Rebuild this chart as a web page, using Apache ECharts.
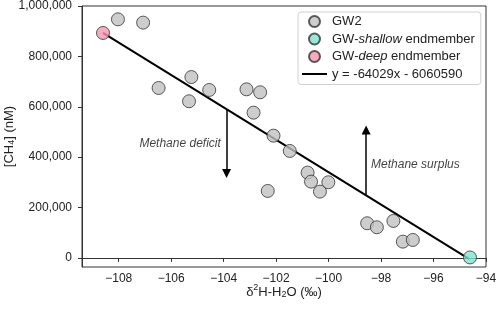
<!DOCTYPE html>
<html>
<head>
<meta charset="utf-8">
<script src="https://cdn.jsdelivr.net/npm/echarts@6/dist/echarts.min.js"></script>
<style>
html,body{margin:0;padding:0;background:#fff;}
#chart{width:498px;height:309px;}
</style>
</head>
<body>
<div id="chart"></div>
<script>
// ---- data ----
const gw2X = [-108.03, -107.07, -106.48, -105.23, -105.32, -104.55, -103.13, -102.61, -102.86, -102.10, -101.48, -100.80, -100.67, -100.01, -100.33, -102.32, -98.53, -98.16, -97.53, -97.17, -96.79];
const gw2Y = [947000, 934000, 674600, 718000, 621800, 666700, 669300, 657500, 576600, 485300, 424600, 338600, 302800, 300300, 263200, 265900, 137600, 121700, 146800, 64700, 71400];
const shallowX = [-94.61];
const shallowY = [2000];
const deepX = [-108.60];
const deepY = [893000];
const fitX = [-108.60, -94.65];
const fitY = [893000, -3400];
const arrowDeficit = [[-103.89, 591000], [-103.89, 335000]];
const arrowSurplus = [[-98.57, 250700], [-98.57, 508000]];
const notes = [[-105.66, 452400, 'Methane deficit'], [-96.69, 369000, 'Methane surplus']];
const xTicks = [-108, -106, -104, -102, -100, -98, -96, -94];
const yTicks = [0, 200000, 400000, 600000, 800000, 1000000];
const legendNames = ['GW2', 'GW-shallow endmember', 'GW-deep endmember', 'y = -64029x - 6060590'];

const zip = (a, b) => a.map((v, i) => [v, b[i]]);
const FONT = 'Liberation Sans, Arial, Helvetica, sans-serif';
const markerBorder = {borderColor: '#333', borderWidth: 1};

const chart = echarts.init(document.getElementById('chart'), null, {renderer: 'canvas'});
chart.setOption({
  animation: false,
  textStyle: {fontFamily: FONT},
  grid: {left: 82, right: 12, top: 6, bottom: 42, show: true, borderColor: '#333', borderWidth: 1,
    backgroundColor: 'transparent', containLabel: false, outerBoundsMode: 'none'},
  xAxis: {
    type: 'value', min: -109.4, max: -94,
    axisLine: {show: true, lineStyle: {color: '#333', width: 1}},
    axisTick: {show: true, length: 4, lineStyle: {color: '#333'}, customValues: xTicks},
    axisLabel: {color: '#222', fontSize: 12, fontFamily: FONT, margin: 6, customValues: xTicks,
      formatter: v => (v < 0 ? '\u2212' + Math.abs(v) : String(v))},
    splitLine: {show: false},
    name: '{n|δ}{sup|2}{n|H-H}{sub|2}{n|O (‰)}',
    nameLocation: 'middle', nameGap: 16, nameMoveOverlap: false,
    nameTextStyle: {color: '#222', fontFamily: FONT, rich: {
      n: {fontSize: 13, lineHeight: 16, verticalAlign: 'bottom', fontFamily: FONT, color: '#222'},
      sup: {fontSize: 9, lineHeight: 9, verticalAlign: 'top', fontFamily: FONT, color: '#222'},
      sub: {fontSize: 9, lineHeight: 9, verticalAlign: 'bottom', fontFamily: FONT, color: '#222'}
    }}
  },
  yAxis: {
    type: 'value', min: -36000, max: 1000000,
    axisLine: {show: true, lineStyle: {color: '#333', width: 1}},
    axisTick: {show: true, length: 4, lineStyle: {color: '#333'}, customValues: yTicks},
    axisLabel: {color: '#222', fontSize: 12, fontFamily: FONT, margin: 10, customValues: yTicks,
      formatter: v => v.toLocaleString('en-US')},
    splitLine: {show: false},
    name: '{n|[CH}{sub|4}{n|] (nM)}',
    nameLocation: 'middle', nameGap: 66, nameMoveOverlap: false,
    nameTextStyle: {color: '#222', fontFamily: FONT, rich: {
      n: {fontSize: 13, lineHeight: 16, verticalAlign: 'bottom', fontFamily: FONT, color: '#222'},
      sub: {fontSize: 9, lineHeight: 9, verticalAlign: 'bottom', fontFamily: FONT, color: '#222'}
    }}
  },
  legend: {
    orient: 'vertical', left: 298, top: 12,
    data: [{name: legendNames[0]}, {name: legendNames[1]}, {name: legendNames[2]},
      {name: legendNames[3], icon: 'path://M0,0L25,0L25,2L0,2Z'}],
    backgroundColor: '#fff', borderColor: '#d0d0d0', borderWidth: 1, borderRadius: 3,
    padding: [3, 6, 4, 4],
    itemWidth: 25, itemHeight: 11, itemGap: 4.5,
    textStyle: {fontSize: 13, color: '#222', fontFamily: FONT, lineHeight: 13,
      rich: {i: {fontStyle: 'italic', fontSize: 13, fontFamily: FONT, color: '#222'}}},
    formatter: name => name.replace('shallow', '{i|shallow}').replace('deep', '{i|deep}')
  },
  series: [
    {name: legendNames[3], type: 'line', data: zip(fitX, fitY), symbol: 'none', z: 2,
      lineStyle: {color: '#000', width: 2}, itemStyle: {color: '#000'}},
    {name: legendNames[0], type: 'scatter', data: zip(gw2X, gw2Y), symbolSize: 13, z: 3,
      itemStyle: Object.assign({color: '#c0c0c0'}, markerBorder)},
    {name: legendNames[1], type: 'scatter', data: zip(shallowX, shallowY), symbolSize: 13, z: 4,
      itemStyle: Object.assign({color: '#7fe3cf'}, markerBorder)},
    {name: legendNames[2], type: 'scatter', data: zip(deepX, deepY), symbolSize: 13, z: 4,
      itemStyle: Object.assign({color: '#f497ae'}, markerBorder)},
    {name: 'arrows', type: 'lines', coordinateSystem: 'cartesian2d', z: 2, silent: true,
      symbol: ['none', 'triangle'], symbolSize: [7, 9],
      lineStyle: {color: '#000', width: 1.5, opacity: 1},
      data: [{coords: arrowDeficit}, {coords: arrowSurplus}]},
    {name: 'notes', type: 'scatter', data: notes, symbolSize: 1, silent: true, z: 5,
      itemStyle: {color: 'rgba(0,0,0,0)'},
      label: {show: true, position: 'inside', formatter: p => p.data[2], fontStyle: 'italic',
        fontSize: 12, color: '#111', fontFamily: FONT}}
  ]
});
</script>
</body>
</html>
